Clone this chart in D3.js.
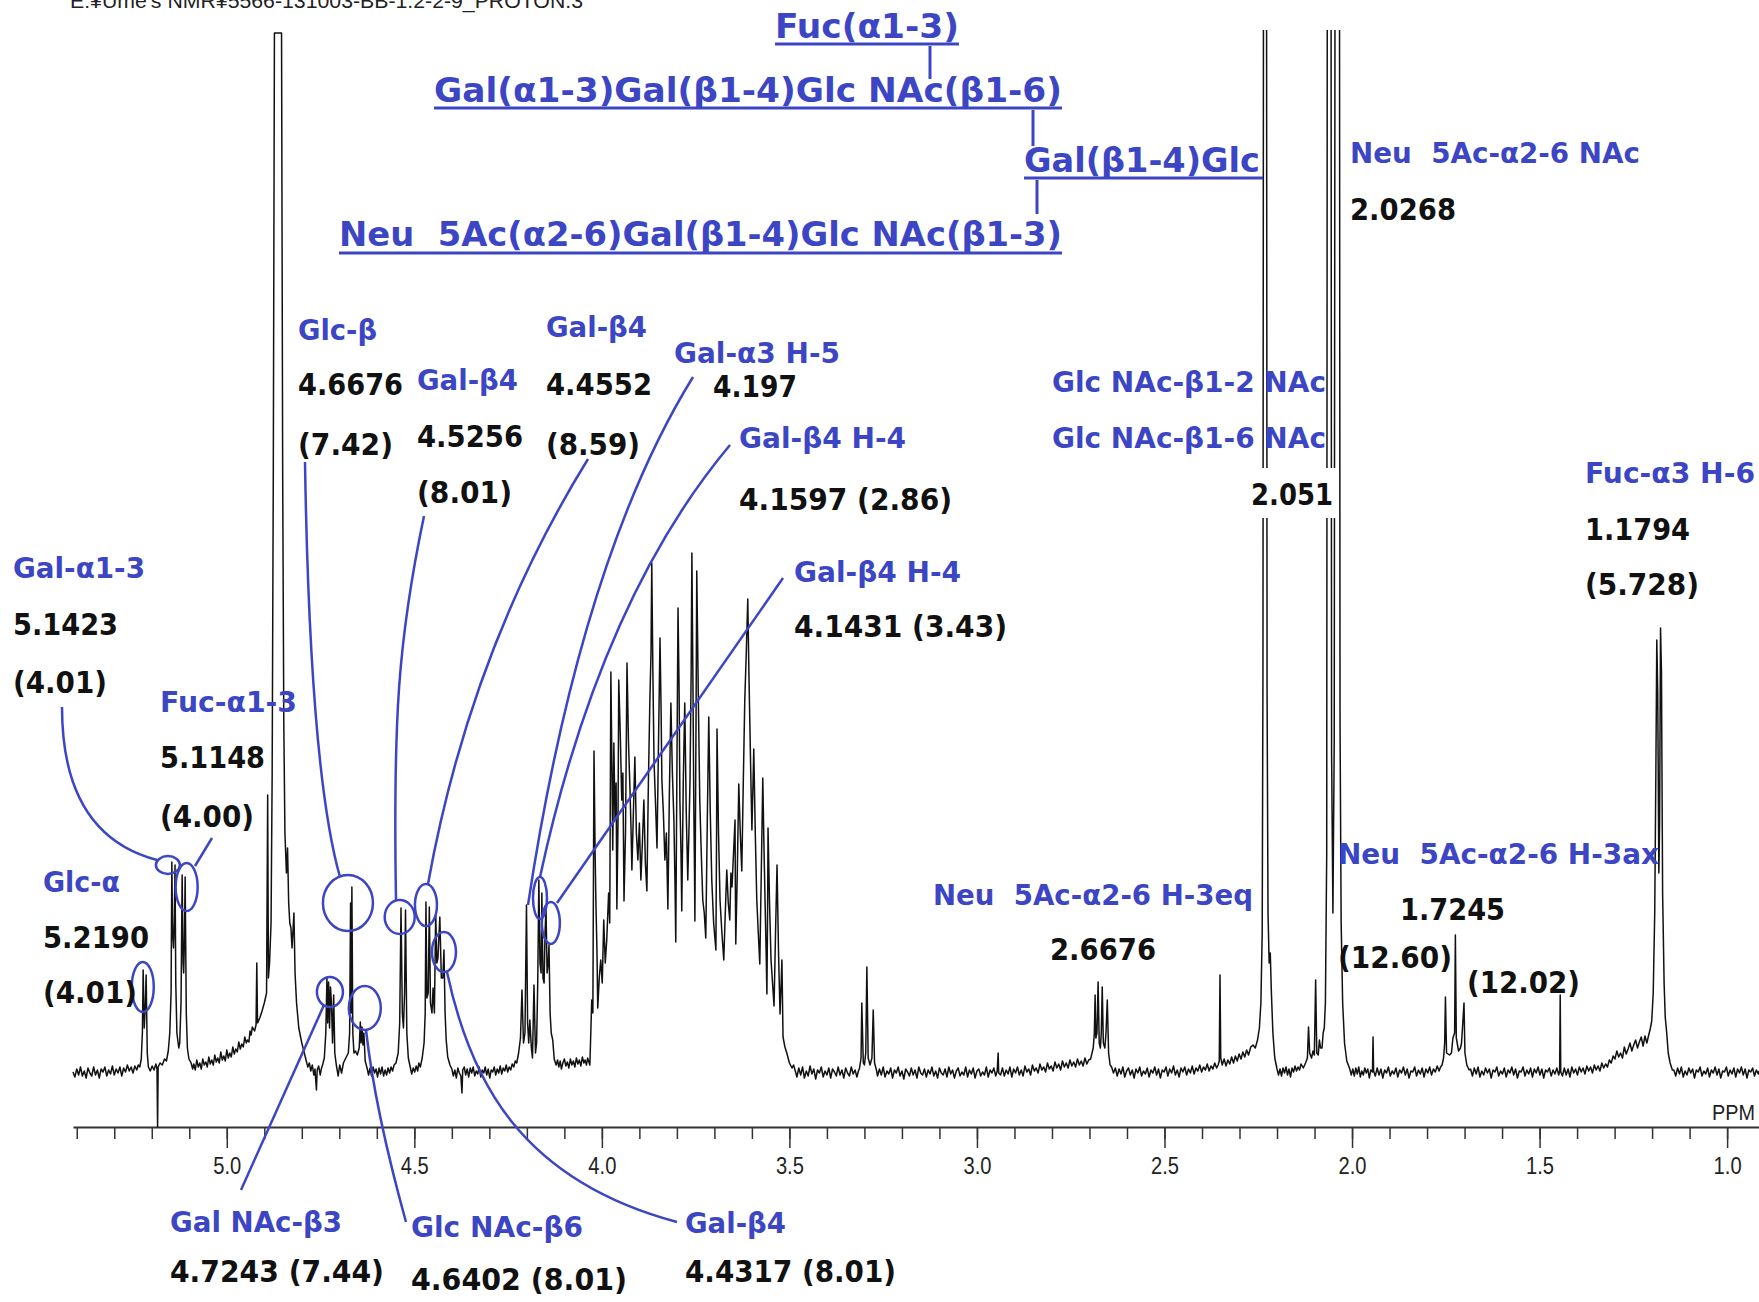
<!DOCTYPE html>
<html>
<head>
<meta charset="utf-8">
<script src="https://cdn.jsdelivr.net/npm/d3@7"></script>
<style>
  body { margin: 0; background: #fff; }
  svg { display: block; }
  .lbl { font-family: "DejaVu Sans", Verdana, sans-serif; font-weight: bold; white-space: pre; }
</style>
</head>
<body>
<svg id="chart" width="1759" height="1302"></svg>
<script>
const width = 1759
const height = 1302
const blue = '#3c46c4'

// spectrum trace: [ppm, intensity (arb. units, 1040 = top of plot)]
const spectrum = [
  [5.410,1],[5.405,-4],[5.400,4],[5.395,-2],[5.390,6],[5.385,-3],[5.380,2],[5.375,-5],[5.370,5],[5.365,0],[5.360,-3],
  [5.355,6],[5.350,-2],[5.345,3],[5.340,-5],[5.335,4],[5.330,1],[5.325,6],[5.320,-3],[5.315,3],[5.310,-1],[5.305,7],
  [5.300,-2],[5.295,4],[5.290,0],[5.285,6],[5.280,-3],[5.275,5],[5.270,1],[5.265,8],[5.260,2],[5.255,6],[5.250,0],
  [5.245,7],[5.240,3],[5.236,8],[5.232,6],
  [5.228,14],[5.225,40],[5.223,103],[5.220,45],[5.217,70],[5.215,98],[5.212,20],[5.209,6],
  [5.204,2],[5.199,7],[5.194,3],[5.189,9],[5.186,4],[5.1845,-54],[5.183,6],[5.178,10],[5.172,8],[5.166,14],[5.161,12],[5.156,22],
  [5.152,40],[5.1485,80],[5.1465,211],[5.1445,140],[5.142,125],[5.140,150],[5.138,208],[5.136,90],[5.133,40],[5.128,25],
  [5.1255,30],[5.122,70],[5.119,198],[5.1165,110],[5.115,100],[5.113,130],[5.111,196],[5.108,60],[5.105,25],[5.101,14],
  [5.095,10],[5.091,4],[5.088,9],[5.084,3],[5.080,13],[5.076,6],[5.072,10],[5.068,4],[5.064,14],[5.060,8],[5.056,11],
  [5.052,6],[5.048,16],[5.044,9],[5.040,13],[5.036,8],[5.032,18],[5.028,11],[5.024,15],[5.020,10],[5.016,21],[5.012,13],
  [5.008,17],[5.004,12],[5.000,23],[4.996,15],[4.992,20],[4.988,16],[4.984,26],[4.980,19],[4.976,24],[4.972,21],[4.968,31],
  [4.964,24],[4.960,29],[4.956,26],[4.952,36],[4.948,30],[4.945,33],[4.941,31],[4.938,42],[4.935,38],[4.932,46],
  [4.926,42],[4.922,48],[4.920,110],[4.918,50],[4.912,55],[4.906,62],[4.900,70],[4.894,80],[4.891,278],[4.889,95],[4.886,110],
  [4.882,150],[4.879,300],[4.876,600],[4.873,1040],[4.854,1040],[4.851,600],[4.848,350],[4.845,240],[4.841,200],[4.838,225],
  [4.835,170],[4.832,150],[4.829,145],[4.826,125],[4.821,160],[4.818,100],[4.814,70],[4.808,45],[4.800,30],[4.792,18],
  [4.788,12],[4.784,6],[4.780,10],[4.776,2],[4.772,8],[4.768,-2],[4.765,4],[4.761,-17],[4.759,3],[4.755,7],[4.751,-2],
  [4.748,4],[4.744,9],
  [4.740,15],[4.736,40],[4.733,95],[4.731,50],[4.7285,91],[4.726,45],[4.7235,86],[4.721,70],[4.718,30],[4.715,78],[4.712,20],
  [4.708,8],[4.703,-3],[4.699,8],[4.694,0],[4.689,10],[4.684,14],
  [4.676,20],[4.6725,40],[4.670,170],[4.668,60],[4.6665,186],[4.664,40],[4.661,20],[4.657,22],[4.652,18],
  [4.647,25],[4.644,51],[4.642,30],[4.6395,46],[4.637,28],[4.6345,40],[4.631,12],[4.626,5],
  [4.622,-2],[4.618,5],[4.614,-3],[4.610,6],[4.606,0],[4.602,4],[4.598,-4],[4.594,5],[4.590,-1],[4.586,6],[4.582,-3],
  [4.578,3],[4.574,-2],[4.570,5],[4.566,0],[4.562,6],[4.558,2],[4.554,8],[4.549,10],
  [4.543,20],[4.539,50],[4.5355,165],[4.532,60],[4.529,45],[4.526,80],[4.5235,163],[4.520,40],[4.516,15],[4.511,6],
  [4.507,-1],[4.503,5],[4.499,1],[4.495,7],[4.491,2],[4.488,10],[4.484,6],[4.479,15],
  [4.474,30],[4.471,60],[4.469,171],[4.4665,75],[4.463,80],[4.460,166],[4.457,70],[4.453,60],[4.450,85],[4.4465,60],
  [4.443,160],[4.440,110],[4.437,115],[4.432,156],[4.428,95],[4.424,95],[4.421,123],[4.418,60],[4.415,33],[4.411,16],[4.405,8],
  [4.400,4],[4.396,-3],[4.392,3],[4.388,-5],[4.384,5],[4.380,0],[4.376,-3],[4.373,-20],[4.371,3],[4.367,6],[4.363,-2],
  [4.359,4],[4.355,-4],[4.351,5],[4.347,0],[4.343,6],[4.339,-3],[4.335,2],[4.331,-1],[4.327,6],[4.323,-4],[4.319,3],
  [4.315,0],[4.311,6],[4.307,-2],[4.303,4],[4.299,-5],[4.295,3],[4.291,1],[4.287,6],[4.283,-2],[4.279,4],[4.275,0],
  [4.271,7],[4.267,-1],[4.263,5],[4.259,2],[4.255,8],[4.251,1],[4.247,6],[4.243,3],[4.239,9],[4.235,6],[4.231,12],
  [4.227,10],[4.222,20],[4.217,35],
  [4.213,83],[4.209,30],[4.205,40],[4.201,168],[4.198,50],[4.195,30],[4.192,53],[4.188,25],[4.185,15],[4.181,88],[4.177,20],
  [4.174,30],[4.171,90],[4.168,193],[4.165,110],[4.162,100],[4.160,180],[4.157,95],[4.154,90],[4.1515,140],[4.149,166],
  [4.146,100],[4.143,110],[4.141,128],[4.138,60],[4.135,40],[4.131,33],[4.127,14],[4.122,8],
  [4.118,13],[4.115,6],[4.111,12],[4.108,4],[4.104,10],[4.100,14],[4.096,7],[4.092,11],[4.088,5],[4.084,14],[4.080,8],
  [4.076,12],[4.072,6],[4.068,15],[4.064,9],[4.060,13],[4.056,7],[4.052,16],[4.048,10],[4.045,13],[4.041,8],[4.038,15],[4.032,8],
  [4.027,73],[4.024,60],[4.021,322],[4.018,220],[4.016,173],[4.013,120],[4.011,65],[4.007,95],[4.003,113],[3.999,90],
  [3.995,153],[3.991,110],[3.987,133],[3.982,180],[3.979,150],[3.976,401],[3.973,300],[3.971,223],[3.968,330],[3.965,253],
  [3.962,290],[3.960,164],[3.957,250],[3.955,393],[3.951,340],[3.947,273],[3.944,300],[3.941,172],[3.937,240],[3.933,410],
  [3.929,330],[3.925,283],[3.922,240],[3.920,203],[3.916,260],[3.912,316],[3.908,240],[3.904,213],[3.900,250],[3.896,193],
  [3.892,230],[3.888,273],[3.884,210],[3.880,182],[3.876,290],[3.872,373],[3.869,420],[3.867,510],[3.864,400],[3.861,313],
  [3.857,270],[3.853,225],[3.849,330],[3.845,435],[3.842,360],[3.840,293],[3.836,260],[3.832,213],[3.828,240],[3.824,164],
  [3.820,280],[3.816,370],[3.812,300],[3.808,253],[3.805,190],[3.803,131],[3.800,300],[3.797,465],[3.794,380],[3.792,273],
  [3.789,220],[3.787,162],[3.783,290],[3.779,370],[3.775,260],[3.771,193],[3.768,240],[3.765,293],[3.762,400],[3.760,520],
  [3.757,380],[3.755,273],[3.753,200],[3.752,152],[3.749,350],[3.747,502],[3.743,380],[3.739,273],[3.735,220],[3.731,173],
  [3.727,160],[3.723,135],[3.719,250],[3.715,356],[3.711,260],[3.707,193],[3.702,150],[3.696,123],[3.694,250],[3.693,344],
  [3.689,240],[3.685,173],[3.680,140],[3.675,113],[3.671,160],[3.667,203],[3.663,170],[3.659,153],[3.656,200],[3.653,186],
  [3.649,220],[3.645,253],[3.644,180],[3.643,129],[3.639,200],[3.635,289],[3.631,240],[3.627,202],[3.623,290],[3.619,373],
  [3.615,420],[3.611,474],[3.608,400],[3.605,340],[3.602,280],[3.600,243],[3.597,290],[3.595,324],[3.591,240],[3.587,173],
  [3.583,140],[3.579,109],[3.575,200],[3.571,295],[3.568,230],[3.565,173],[3.562,120],[3.560,79],[3.558,170],[3.557,245],
  [3.553,170],[3.549,113],[3.545,90],[3.541,67],[3.537,140],[3.533,208],[3.529,120],[3.525,59],[3.522,90],[3.520,113],
  [3.517,36],[3.512,26],[3.507,20],[3.500,10],[3.493,5],
  [3.489,8],[3.485,3],[3.480,-4],[3.475,5],[3.470,-2],[3.465,6],[3.460,-5],[3.455,2],[3.450,-3],[3.445,7],[3.440,-1],
  [3.435,4],[3.430,-6],[3.425,3],[3.420,0],[3.415,6],[3.410,-4],[3.405,2],[3.400,-2],[3.395,5],[3.390,-5],[3.385,4],
  [3.380,1],[3.375,-3],[3.370,6],[3.365,-2],[3.360,3],[3.355,-5],[3.350,5],[3.345,0],[3.340,-3],[3.335,6],[3.330,-1],
  [3.325,3],[3.320,-4],[3.316,2],
  [3.313,5],[3.309,15],[3.307,70],[3.303,10],[3.300,8],[3.2965,20],[3.2935,106],[3.290,15],[3.285,8],[3.280,15],[3.2765,63],
  [3.273,10],[3.268,3],
  [3.265,-3],[3.260,4],[3.255,-2],[3.250,6],[3.245,-4],[3.240,2],[3.235,-1],[3.230,5],[3.225,-5],[3.220,3],[3.215,0],
  [3.210,6],[3.205,-3],[3.200,2],[3.195,-6],[3.190,4],[3.185,1],[3.180,-3],[3.175,5],[3.170,-2],[3.165,3],[3.160,-5],
  [3.155,6],[3.150,0],[3.145,-2],[3.140,4],[3.135,-4],[3.130,3],[3.125,-1],[3.120,6],[3.115,-3],[3.110,2],[3.105,-5],
  [3.100,5],[3.095,0],[3.090,-2],[3.085,4],[3.080,-4],[3.075,6],[3.070,-1],[3.065,3],[3.060,-5],[3.055,2],[3.050,5],
  [3.045,-3],[3.040,1],[3.035,-2],[3.030,6],[3.025,-4],[3.020,3],[3.015,-1],[3.010,5],[3.005,-5],[3.000,2],[2.995,4],
  [2.990,-3],[2.985,1],[2.980,-2],[2.975,6],[2.970,-4],[2.965,3],[2.960,0],[2.955,5],[2.950,-3],[2.946,2],
  [2.9435,20],[2.942,0],
  [2.937,-2],[2.932,5],[2.927,-3],[2.922,3],[2.917,-1],[2.912,6],[2.907,-4],[2.902,4],[2.897,0],[2.892,6],[2.887,-2],
  [2.882,3],[2.877,-3],[2.872,7],[2.867,1],[2.862,4],[2.857,-2],[2.852,8],[2.847,2],[2.842,5],[2.837,0],[2.832,9],
  [2.827,3],[2.822,6],[2.817,1],[2.812,10],[2.807,4],[2.802,7],[2.797,2],[2.792,11],[2.787,5],[2.782,9],[2.777,3],
  [2.772,12],[2.767,6],[2.762,10],[2.757,5],[2.752,13],[2.747,7],[2.742,11],[2.737,6],[2.732,14],[2.727,8],[2.722,12],
  [2.717,7],[2.712,15],[2.707,9],[2.702,13],[2.697,14],
  [2.690,25],[2.687,40],[2.685,78],[2.683,35],[2.680,40],[2.677,91],[2.674,30],[2.671,25],[2.6685,40],[2.666,86],[2.663,30],
  [2.659,25],[2.656,40],[2.6525,73],[2.649,20],[2.645,8],
  [2.641,6],[2.636,0],[2.631,5],[2.626,-3],[2.621,4],[2.616,-1],[2.611,6],[2.606,-4],[2.601,2],[2.596,5],[2.591,-2],
  [2.586,3],[2.581,-5],[2.576,4],[2.571,0],[2.566,6],[2.561,-3],[2.556,2],[2.551,-1],[2.546,5],[2.541,-4],[2.536,3],
  [2.531,0],[2.526,6],[2.521,-2],[2.516,4],[2.511,-5],[2.506,3],[2.501,1],[2.496,6],[2.491,-3],[2.486,4],[2.481,0],
  [2.476,7],[2.471,-2],[2.466,3],[2.461,-4],[2.456,5],[2.451,1],[2.446,6],[2.441,-2],[2.436,4],[2.431,0],[2.426,7],
  [2.421,-1],[2.416,5],[2.411,2],[2.406,8],[2.401,1],[2.396,6],[2.391,3],[2.386,9],[2.381,2],[2.376,7],[2.371,4],
  [2.366,10],[2.361,5],[2.357,8],
  [2.354,12],[2.352,98],[2.350,15],
  [2.346,8],[2.341,14],[2.336,7],[2.331,13],[2.326,9],[2.321,16],[2.316,10],[2.311,17],[2.306,12],[2.301,19],[2.296,14],
  [2.291,21],[2.286,16],[2.281,23],[2.276,18],[2.270,26],[2.264,28],[2.258,25],
  [2.252,33],[2.247,45],[2.243,70],[2.2395,140],[2.2375,400],[2.2355,1400],[2.2285,1400],[2.2265,380],[2.224,160],[2.221,110],
  [2.218,120],[2.215,80],[2.211,40],[2.206,15],[2.200,4],
  [2.196,-2],[2.192,4],[2.188,-3],[2.184,5],[2.180,0],[2.176,6],[2.172,-2],[2.168,4],[2.164,-4],[2.160,5],[2.156,1],
  [2.152,7],[2.148,2],[2.144,6],[2.140,3],[2.136,9],[2.130,5],
  [2.124,10],[2.119,15],[2.116,46],[2.113,20],[2.108,15],[2.104,22],[2.1005,18],[2.097,93],[2.094,20],[2.090,18],[2.087,33],
  [2.084,25],[2.080,25],[2.077,40],[2.074,45],[2.071,70],
  [2.0675,220],[2.0655,1400],[2.0565,1400],[2.0545,320],[2.051,160],[2.0475,330],[2.0445,1400],[2.034,1400],[2.032,350],
  [2.029,150],[2.025,70],[2.020,30],[2.014,12],[2.006,4],
  [2.002,-2],[1.998,4],[1.994,-3],[1.990,5],[1.986,-1],[1.982,6],[1.978,-4],[1.974,2],[1.970,-2],[1.966,5],[1.962,0],
  [1.958,4],[1.954,-5],[1.950,3],[1.9455,1],[1.944,36],[1.9425,2],
  [1.938,-3],[1.933,5],[1.928,-2],[1.923,4],[1.918,-5],[1.913,3],[1.908,0],[1.903,6],[1.898,-3],[1.893,2],[1.888,-1],
  [1.883,5],[1.878,-4],[1.873,3],[1.868,0],[1.863,6],[1.858,-2],[1.853,4],[1.848,-5],[1.843,2],[1.838,1],[1.833,6],
  [1.828,-3],[1.823,3],[1.818,-1],[1.813,5],[1.808,-4],[1.803,4],[1.798,0],[1.793,6],[1.788,-2],[1.783,4],[1.778,1],
  [1.773,7],[1.768,2],[1.764,6],[1.760,8],
  [1.756,15],[1.753,30],[1.751,76],[1.748,20],[1.740,18],[1.735,20],[1.731,35],[1.7265,40],[1.7245,138],[1.722,35],[1.716,22],
  [1.711,25],[1.708,30],[1.7015,70],[1.699,20],[1.694,8],[1.688,3],
  [1.684,4],[1.679,-3],[1.674,5],[1.669,-1],[1.664,6],[1.659,-4],[1.654,2],[1.649,-2],[1.644,5],[1.639,0],[1.634,4],
  [1.629,-5],[1.624,3],[1.619,1],[1.614,6],[1.609,-3],[1.604,2],[1.599,-1],[1.594,5],[1.589,-4],[1.584,3],[1.579,0],
  [1.574,6],[1.569,-2],[1.564,4],[1.559,-5],[1.554,2],[1.549,1],[1.544,6],[1.539,-3],[1.534,3],[1.529,-1],[1.524,5],
  [1.519,-4],[1.514,4],[1.509,0],[1.504,6],[1.499,-2],[1.494,4],[1.489,-5],[1.484,3],[1.479,1],[1.474,5],[1.469,-3],
  [1.464,3],[1.459,-1],[1.454,5],[1.449,-2],[1.4465,2],[1.445,78],[1.4435,1],
  [1.439,-3],[1.434,5],[1.429,-2],[1.424,4],[1.419,-4],[1.414,6],[1.409,0],[1.404,4],[1.399,-2],[1.394,6],[1.389,1],
  [1.384,5],[1.379,-1],[1.374,7],[1.369,2],[1.364,6],[1.359,0],[1.354,8],[1.349,3],[1.344,7],[1.339,2],[1.334,10],
  [1.329,5],[1.324,9],[1.319,6],[1.314,13],[1.309,10],[1.304,17],[1.299,14],[1.294,22],[1.289,16],[1.284,20],[1.279,15],
  [1.274,26],[1.269,19],[1.264,24],[1.259,30],[1.254,22],[1.249,28],[1.244,33],[1.239,25],[1.234,31],[1.229,36],[1.224,27],
  [1.219,37],[1.214,30],[1.209,38],[1.205,44],[1.201,52],[1.197,80],
  [1.193,160],[1.190,300],[1.1875,433],[1.185,380],[1.182,200],[1.180,250],[1.1775,445],[1.175,400],[1.172,180],[1.168,90],
  [1.165,56],[1.161,40],[1.157,20],[1.152,10],[1.146,3],
  [1.142,3],[1.137,-3],[1.132,5],[1.127,-1],[1.122,6],[1.117,-4],[1.112,2],[1.107,-2],[1.102,5],[1.097,0],[1.092,4],
  [1.087,-5],[1.082,3],[1.077,1],[1.072,6],[1.067,-3],[1.062,2],[1.057,-1],[1.052,5],[1.047,-4],[1.042,3],[1.037,0],
  [1.032,6],[1.027,-2],[1.022,4],[1.017,-5],[1.012,2],[1.007,1],[1.002,6],[0.997,-3],[0.992,3],[0.987,-1],[0.982,5],
  [0.977,-4],[0.972,4],[0.967,0],[0.962,6],[0.957,-2],[0.952,4],[0.947,-5],[0.942,3],[0.937,1],[0.932,5],[0.927,-3],
  [0.922,3],[0.917,-1],[0.915,2]
]

const majorTicks = [5.0, 4.5, 4.0, 3.5, 3.0, 2.5, 2.0, 1.5, 1.0]
const minorTicks = [5.4, 5.3, 5.2, 5.1, 5.0, 4.9, 4.8, 4.7, 4.6, 4.5, 4.4, 4.3, 4.2, 4.1, 4.0, 3.9, 3.8, 3.7, 3.6, 3.5,
  3.4, 3.3, 3.2, 3.1, 3.0, 2.9, 2.8, 2.7, 2.6, 2.5, 2.4, 2.3, 2.2, 2.1, 2.0, 1.9, 1.8, 1.7, 1.6, 1.5, 1.4, 1.3, 1.2, 1.1, 1.0]

const headerText = "E:¥Ume's NMR¥5566-131003-BB-1.2-2-9_PROTON.3"

// glycan structure (text, layout)
const structure = [
  { t: 'Fuc(α1-3)', x: 775, y: 38, w: 184, u: 44 },
  { t: 'Gal(α1-3)Gal(β1-4)Glc NAc(β1-6)', x: 434, y: 102, w: 628, u: 108 },
  { t: 'Gal(β1-4)Glc', x: 1024, y: 172, w: 236, u: 178, uEnd: 1263 },
  { t: 'Neu  5Ac(α2-6)Gal(β1-4)Glc NAc(β1-3)', x: 339, y: 246, w: 723, u: 253 }
]
const connectors = [[930, 46, 930, 79], [1033, 110, 1033, 146], [1037, 180, 1037, 214]]

// peak annotations: blue names, black shifts (J)
const labels = [
  { t: 'Gal-α1-3', x: 13, y: 578, w: 132, c: 'b' },
  { t: '5.1423', x: 13, y: 635, w: 105 },
  { t: '(4.01)', x: 13, y: 693, w: 94 },
  { t: 'Fuc-α1-3', x: 160, y: 712, w: 137, c: 'b' },
  { t: '5.1148', x: 160, y: 768, w: 105 },
  { t: '(4.00)', x: 160, y: 827, w: 94 },
  { t: 'Glc-α', x: 43, y: 892, w: 77, c: 'b' },
  { t: '5.2190', x: 43, y: 948, w: 106 },
  { t: '(4.01)', x: 43, y: 1003, w: 94 },
  { t: 'Glc-β', x: 298, y: 340, w: 79, c: 'b' },
  { t: '4.6676', x: 298, y: 395, w: 105 },
  { t: '(7.42)', x: 298, y: 455, w: 95 },
  { t: 'Gal-β4', x: 417, y: 390, w: 101, c: 'b' },
  { t: '4.5256', x: 417, y: 447, w: 106 },
  { t: '(8.01)', x: 417, y: 503, w: 95 },
  { t: 'Gal-β4', x: 546, y: 337, w: 101, c: 'b' },
  { t: '4.4552', x: 546, y: 395, w: 106 },
  { t: '(8.59)', x: 546, y: 455, w: 94 },
  { t: 'Gal-α3 H-5', x: 674, y: 363, w: 166, c: 'b' },
  { t: '4.197', x: 713, y: 397, w: 84 },
  { t: 'Gal-β4 H-4', x: 739, y: 448, w: 167, c: 'b' },
  { t: '4.1597 (2.86)', x: 739, y: 510, w: 213 },
  { t: 'Gal-β4 H-4', x: 794, y: 582, w: 167, c: 'b' },
  { t: '4.1431 (3.43)', x: 794, y: 637, w: 213 },
  { t: 'Glc NAc-β1-2 NAc', x: 1052, y: 392, w: 274, c: 'b' },
  { t: 'Glc NAc-β1-6 NAc', x: 1052, y: 448, w: 274, c: 'b' },
  { t: 'Neu  5Ac-α2-6 NAc', x: 1350, y: 163, w: 290, c: 'b' },
  { t: '2.0268', x: 1350, y: 220, w: 106 },
  { t: 'Fuc-α3 H-6', x: 1585, y: 483, w: 170, c: 'b' },
  { t: '1.1794', x: 1585, y: 540, w: 105 },
  { t: '(5.728)', x: 1585, y: 595, w: 114 },
  { t: 'Neu  5Ac-α2-6 H-3eq', x: 933, y: 905, w: 320, c: 'b' },
  { t: '2.6676', x: 1050, y: 960, w: 106 },
  { t: 'Neu  5Ac-α2-6 H-3ax', x: 1338, y: 864, w: 321, c: 'b' },
  { t: '1.7245', x: 1400, y: 920, w: 105 },
  { t: '(12.60)', x: 1338, y: 968, w: 114 },
  { t: '(12.02)', x: 1467, y: 993, w: 113 },
  { t: 'Gal NAc-β3', x: 170, y: 1232, w: 172, c: 'b' },
  { t: '4.7243 (7.44)', x: 170, y: 1282, w: 214 },
  { t: 'Glc NAc-β6', x: 411, y: 1237, w: 172, c: 'b' },
  { t: '4.6402 (8.01)', x: 411, y: 1290, w: 216 },
  { t: 'Gal-β4', x: 685, y: 1233, w: 101, c: 'b' },
  { t: '4.4317 (8.01)', x: 685, y: 1282, w: 211 }
]

// circled peaks: centre in ppm, the rest in px
const circles = [
  { ppm: 5.157, cy: 865, rx: 12, ry: 9 },
  { ppm: 5.107, cy: 887, rx: 11, ry: 24 },
  { ppm: 5.224, cy: 987, rx: 11, ry: 25 },
  { ppm: 4.677, cy: 903, rx: 25, ry: 28 },
  { ppm: 4.725, cy: 992, rx: 13, ry: 15 },
  { ppm: 4.632, cy: 1008, rx: 16, ry: 22 },
  { ppm: 4.539, cy: 917, rx: 15, ry: 17 },
  { ppm: 4.469, cy: 905, rx: 11, ry: 21 },
  { ppm: 4.421, cy: 952, rx: 12, ry: 20 },
  { ppm: 4.165, cy: 898, rx: 7, ry: 21 },
  { ppm: 4.136, cy: 923, rx: 9, ry: 21 }
]

const leaders = [
  'M62,707 C62,800 100,845 157,860',
  'M212,838 L195,866',
  'M305,462 C308,650 318,800 340,877',
  'M424,516 C398,640 393,720 396,900',
  'M588,459 Q470,650 428,884',
  'M693,377 Q580,560 528,905',
  'M730,445 Q600,600 540,877',
  'M783,578 L557,903',
  'M241,1190 L324,1005',
  'M406,1222 Q375,1110 366,1030',
  'M677,1222 C520,1180 470,1080 447,972'
]

const x = d3.scaleLinear().domain([5.41, 0.915]).range([73, 1759])
const y = d3.scaleLinear().domain([0, 1040]).range([1073, 33])

const svg = d3.select('#chart')

svg.append('defs').append('clipPath')
    .attr('id', 'plotclip')
    .append('rect')
    .attr('x', 60).attr('y', 30)
    .attr('width', width).attr('height', 1100)

// header (its top is cut by the page edge in the scan as well)
svg.append('text')
    .attr('x', 70).attr('y', 8)
    .attr('textLength', 513)
    .attr('lengthAdjust', 'spacingAndGlyphs')
    .style('font-family', '"Liberation Sans", Arial, sans-serif')
    .style('font-size', '21px')
    .style('fill', '#222')
    .text(headerText)

// axis
const axisY = 1127
const minorAxis = d3.axisBottom(x).tickValues(minorTicks).tickSize(12).tickSizeOuter(0).tickFormat('')
const majorAxis = d3.axisBottom(x).tickValues(majorTicks).tickSize(21).tickSizeOuter(0)
    .tickPadding(9).tickFormat(d3.format('.1f'))

svg.append('g')
    .attr('transform', `translate(0,${axisY})`)
    .call(minorAxis)
    .call(g => g.select('.domain').attr('stroke', '#333').attr('stroke-width', 2))
    .call(g => g.selectAll('.tick line').attr('stroke', '#333').attr('stroke-width', 1.5))

svg.append('g')
    .attr('transform', `translate(0,${axisY})`)
    .call(majorAxis)
    .call(g => g.select('.domain').remove())
    .call(g => g.selectAll('.tick line').attr('stroke', '#333').attr('stroke-width', 1.5))
    .call(g => g.selectAll('.tick text')
        .attr('fill', '#222')
        .attr('textLength', 28)
        .attr('lengthAdjust', 'spacingAndGlyphs')
        .style('font-family', '"Liberation Sans Narrow", "Liberation Sans", Arial, sans-serif')
        .style('font-size', '24px'))

svg.append('text')
    .attr('x', 1712).attr('y', 1120)
    .attr('textLength', 43)
    .attr('lengthAdjust', 'spacingAndGlyphs')
    .style('font-family', '"Liberation Sans", Arial, sans-serif')
    .style('font-size', '22px')
    .style('fill', '#222')
    .text('PPM')

// spectrum
const line = d3.line()
    .x(d => x(d[0]))
    .y(d => y(d[1]))

svg.append('path')
    .datum(spectrum)
    .attr('clip-path', 'url(#plotclip)')
    .attr('d', line)
    .attr('fill', 'none')
    .attr('stroke', '#111')
    .attr('stroke-width', 1.5)
    .attr('stroke-linejoin', 'round')

// structure
const st = svg.append('g')
st.selectAll('text')
    .data(structure)
    .join('text')
    .attr('class', 'lbl')
    .attr('x', d => d.x).attr('y', d => d.y)
    .attr('textLength', d => d.w)
    .attr('lengthAdjust', 'spacingAndGlyphs')
    .style('font-size', '34px')
    .style('fill', blue)
    .text(d => d.t)
st.selectAll('line.ul')
    .data(structure)
    .join('line')
    .attr('class', 'ul')
    .attr('x1', d => d.x).attr('x2', d => d.uEnd || d.x + d.w)
    .attr('y1', d => d.u).attr('y2', d => d.u)
    .attr('stroke', blue).attr('stroke-width', 3)
st.selectAll('line.cn')
    .data(connectors)
    .join('line')
    .attr('class', 'cn')
    .attr('x1', d => d[0]).attr('y1', d => d[1])
    .attr('x2', d => d[2]).attr('y2', d => d[3])
    .attr('stroke', blue).attr('stroke-width', 3)

// circles and leader lines
svg.append('g')
    .selectAll('ellipse')
    .data(circles)
    .join('ellipse')
    .attr('cx', d => x(d.ppm)).attr('cy', d => d.cy)
    .attr('rx', d => d.rx).attr('ry', d => d.ry)
    .attr('fill', 'none').attr('stroke', blue).attr('stroke-width', 2.5)

svg.append('g')
    .selectAll('path')
    .data(leaders)
    .join('path')
    .attr('d', d => d)
    .attr('fill', 'none').attr('stroke', blue).attr('stroke-width', 2.5)

// labels
svg.append('g')
    .selectAll('text')
    .data(labels)
    .join('text')
    .attr('class', 'lbl')
    .attr('x', d => d.x).attr('y', d => d.y)
    .attr('textLength', d => d.w)
    .attr('lengthAdjust', 'spacingAndGlyphs')
    .style('font-size', d => d.c === 'b' ? '28px' : '30px')
    .style('fill', d => d.c === 'b' ? blue : '#111')
    .text(d => d.t)

// 2.051 sits on a white patch that breaks the acetyl peaks
svg.append('rect')
    .attr('x', 1246).attr('y', 468).attr('width', 92).attr('height', 50)
    .attr('fill', '#fff')
svg.append('text')
    .attr('class', 'lbl')
    .attr('x', 1251).attr('y', 505)
    .attr('textLength', 82)
    .attr('lengthAdjust', 'spacingAndGlyphs')
    .style('font-size', '30px')
    .style('fill', '#111')
    .text('2.051')
</script>
</body>
</html>
